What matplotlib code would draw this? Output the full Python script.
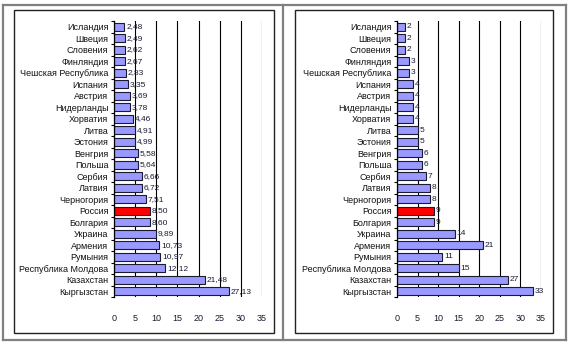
import matplotlib.pyplot as plt
from matplotlib.patches import Rectangle
from matplotlib.lines import Line2D

plt.rcParams['font.family'] = ['Liberation Sans Narrow', 'Liberation Sans', 'DejaVu Sans']

countries = ['Исландия', 'Швеция', 'Словения', 'Финляндия', 'Чешская Республика',
             'Испания', 'Австрия', 'Нидерланды', 'Хорватия', 'Литва', 'Эстония',
             'Венгрия', 'Польша', 'Сербия', 'Латвия', 'Черногория', 'Россия',
             'Болгария', 'Украина', 'Армения', 'Румыния', 'Республика Молдова',
             'Казахстан', 'Кыргызстан']
left_vals = [2.48, 2.49, 2.62, 2.67, 2.83, 3.35, 3.69, 3.78, 4.46, 4.91, 4.99,
             5.58, 5.64, 6.66, 6.72, 7.51, 8.50, 8.60, 9.89, 10.73, 10.97, 12.12,
             21.48, 27.13]
right_vals = [2, 2, 2, 3, 3, 4, 4, 4, 4, 5, 5, 6, 6, 7, 8, 8, 9, 9, 14, 21, 11, 15,
              27, 33]
xticks = [0, 5, 10, 15, 20, 25, 30, 35]
highlight = 'Россия'

W, H = 570, 348
fig = plt.figure(figsize=(W / 100, H / 100), dpi=100)
fig.patch.set_facecolor('white')

def px(x0, y0, x1, y1):
    # pixel box (top-left origin) -> figure fraction rect
    return [x0 / W, 1 - y1 / H, (x1 - x0) / W, (y1 - y0) / H]

# outer grey frame
grey = '#808080'
for xs, ys in [([3, 566], [5, 5]), ([3, 566], [340, 340]), ([3, 3], [5, 340]),
               ([283, 283], [5, 340]), ([566, 566], [5, 340])]:
    fig.add_artist(Line2D([x / W for x in xs], [1 - y / H for y in ys],
                          color=grey, lw=1.6))
# inner black boxes
for x0, x1 in [(14, 274), (295, 553)]:
    fig.add_artist(Rectangle((x0 / W, 1 - 333 / H), (x1 - x0) / W, (333 - 10) / H,
                             fill=False, ec='#222222', lw=1.0))

txt = '#1a1a33'

def draw(rect, vals, fmt):
    ax = fig.add_axes(rect)
    n = len(countries)
    ys = list(range(n))
    colors = ['#ff0000' if c == highlight else '#9999ff' for c in countries]
    ax.barh(ys, vals, height=0.68, color=colors, edgecolor='#1a1a33', lw=0.8, zorder=3)
    for y, v in zip(ys, vals):
        ax.text(v + 0.4, y, fmt(v), va='center', ha='left', fontsize=6, color=txt, zorder=4)
    ax.set_ylim(n - 0.5, -0.5)
    ax.set_xlim(0, 35)
    ax.set_yticks(ys)
    ax.set_yticklabels(countries, fontsize=6.5, color='#111111')
    ax.set_yticks([i - 0.5 for i in range(n + 1)], minor=True)
    ax.tick_params(axis='y', which='major', length=0, pad=4)
    ax.tick_params(axis='y', which='minor', length=2.5, width=0.8, direction='out')
    ax.set_xticks(xticks)
    ax.set_xticklabels([str(t) for t in xticks], fontsize=6.5, color=txt)
    ax.tick_params(axis='x', length=0, pad=12)
    ax.grid(axis='x', color='black', lw=0.8, zorder=1)
    for s in ['top', 'right', 'bottom']:
        ax.spines[s].set_visible(False)
    ax.spines['left'].set_color('black')
    ax.spines['left'].set_linewidth(0.9)
    ax.spines['left'].set_zorder(5)
    return ax

draw(px(114, 21, 262, 297), left_vals, lambda v: f'{v:.2f}'.replace('.', ','))
draw(px(397, 21, 541, 297), right_vals, lambda v: str(v))

fig.savefig('out.png', dpi=100)
